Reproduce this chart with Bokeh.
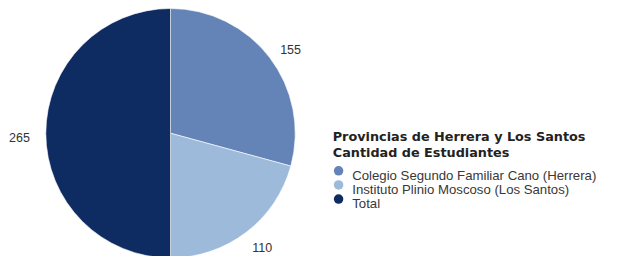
import numpy as np
from bokeh.plotting import figure
from bokeh.models import Range1d, ColumnDataSource
from bokeh.core.properties import value
from bokeh.embed import file_html
from bokeh.resources import INLINE

categories = ["Colegio Segundo Familiar Cano (Herrera)", "Instituto Plinio Moscoso (Los Santos)", "Total"]
counts = [155, 110, 265]
colors = ["#6483b6", "#9dbadb", "#0e2b62"]
legend_title = ["Provincias de Herrera y Los Santos", "Cantidad de Estudiantes"]

W, H = 607, 256
RW, RH = 623, 272  # reference frame
p = figure(width=W, height=H, output_backend="svg", toolbar_location=None,
           x_range=Range1d(0, RW), y_range=Range1d(0, RH),
           min_border=0, outline_line_color=None)
p.axis.visible = False
p.grid.visible = False
p.background_fill_color = "white"
p.border_fill_color = "white"

cx, cy, r = 174.5, RH - 141.0, 128.0
vals = np.array(counts, dtype=float)
fr = vals / vals.sum()
cum = np.concatenate([[0], np.cumsum(fr)])
start = np.pi / 2 - cum[1:] * 2 * np.pi
end = np.pi / 2 - cum[:-1] * 2 * np.pi
src = ColumnDataSource(dict(start=start, end=end, color=colors, cat=categories))
p.wedge(x=cx, y=cy, radius=r, start_angle="start", end_angle="end",
        fill_color="color", line_color="white", line_width=0.6, source=src)

mid = (start + end) / 2
lr = 155.0
lx = cx + lr * np.cos(mid)
lyy = cy + lr * np.sin(mid) - 5
lyy = np.maximum(lyy, 10.0)
p.text(x=lx, y=lyy, text=[str(c) for c in counts],
       text_font=value("Liberation Sans"), text_font_size="12.5px", text_color="#333333",
       text_align="center", text_baseline="alphabetic")

# legend
tx = 341
p.text(x=[tx, tx], y=[RH - 145, RH - 161], text=legend_title,
       text_font=value("DejaVu Sans"), text_font_style="bold", text_font_size="12.8px",
       text_color="#222222", text_baseline="alphabetic")
ly = np.array([181, 196, 211])
p.scatter(x=[347] * 3, y=RH - ly, size=9.5, marker="circle", fill_color=colors, line_color=None)
p.text(x=[361] * 3, y=RH - ly - 5, text=categories,
       text_font=value("Liberation Sans"), text_font_size="13.2px", text_color="#383838",
       text_baseline="alphabetic")

open("out.html", "w").write(file_html(p, INLINE))
